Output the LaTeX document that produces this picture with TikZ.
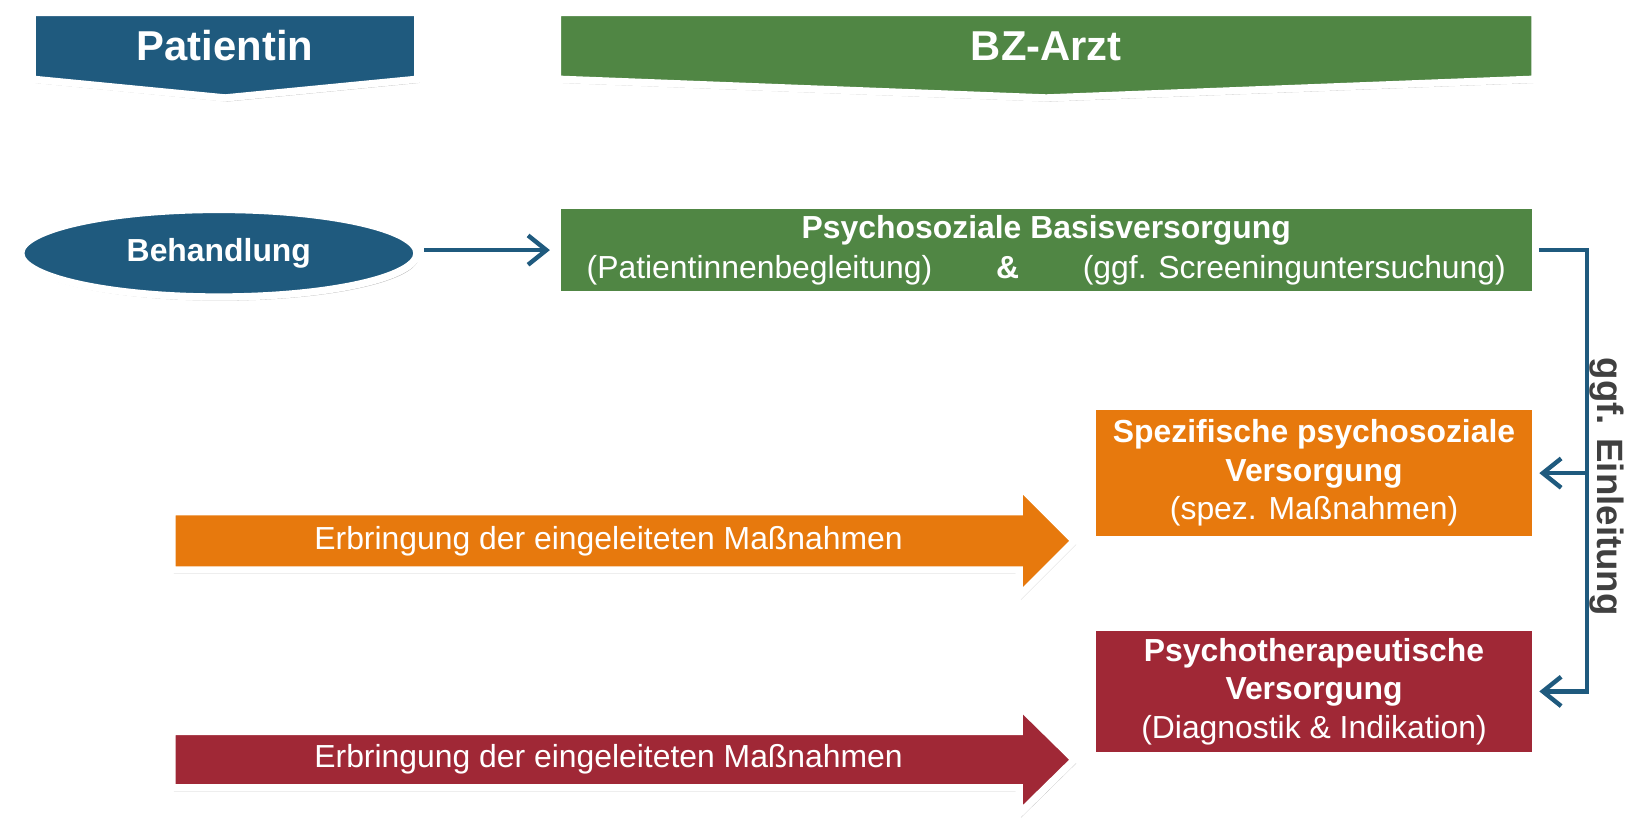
\documentclass[tikz,border=0pt]{standalone}
\usepackage{fontspec}
\setmainfont{Liberation Sans}
\usetikzlibrary{arrows.meta,shadows,shapes.geometric}
\definecolor{cblue}{RGB}{31,90,126}
\definecolor{cgreen}{RGB}{80,134,68}
\definecolor{corange}{RGB}{231,121,13}
\definecolor{cred}{RGB}{160,40,54}
\definecolor{cgray}{RGB}{64,64,64}
\begin{document}
\begin{tikzpicture}[x=0.01cm,y=-0.01cm,
  shd/.style={drop shadow={opacity=0.3,shadow xshift=0.5pt,shadow yshift=-1pt,fill=black}},
  frame/.style={draw=white,line width=2pt,line join=miter,shd},
  bodytext/.style={font=\fontsize{8.7}{10.5}\selectfont,text=white,align=center},
  headtext/.style={font=\bfseries\fontsize{11.4}{13}\selectfont,text=white},
  boxnode/.style={frame,bodytext,rectangle,inner sep=0pt},
  conn/.style={draw=cblue,line width=1.2pt,line join=miter,-{Straight Barb[length=5pt,width=8pt,line width=1.2pt]}},
  ]
\useasboundingbox (0,0) rectangle (1568,800);
% headers
\path[frame,fill=cblue] (31,12) -- (401,12) -- (401,76) -- (216,94) -- (31,76) -- cycle;
\node[headtext] (pat) at (216,44) {Patientin};
\path[frame,fill=cgreen] (535,12) -- (1473,12) -- (1473,76) -- (1004,94) -- (535,76) -- cycle;
\node[headtext] (bz) at (1004,44) {BZ-Arzt};
% ellipse
\node[ellipse,frame,fill=cblue,minimum width=3.8cm,minimum height=0.84cm,
      font=\bfseries\fontsize{8.7}{10.5}\selectfont,text=white] (beh) at (210,243) {Behandlung};
% green box
\node[boxnode,fill=cgreen,minimum width=9.38cm,minimum height=0.86cm] (basis) at (1004,240)
  {\textbf{Psychosoziale Basisversorgung}\\[0.4pt](Patientinnenbegleitung)\hspace{17.4pt}\textbf{\&}\hspace{17.4pt}(ggf. Screeninguntersuchung)};
% orange box
\node[boxnode,fill=corange,minimum width=4.25cm,minimum height=1.28cm] (spez) at (1261,454)
  {\textbf{Spezifische psychosoziale}\\\textbf{Versorgung}\\(spez. Maßnahmen)};
% red box
\node[boxnode,fill=cred,minimum width=4.25cm,minimum height=1.23cm] (psy) at (1261,663.5)
  {\textbf{Psychotherapeutische}\\\textbf{Versorgung}\\(Diagnostik \& Indikation)};
% fat arrows
\path[frame,fill=corange] (165,491) -- (978,491) -- (978,466) -- (1031,519) -- (978,572) -- (978,547) -- (165,547) -- cycle;
\node[bodytext] (erb1) at (584,519) {Erbringung der eingeleiteten Maßnahmen};
\path[frame,fill=cred] (165,702) -- (978,702) -- (978,677) -- (1031,729) -- (978,781) -- (978,756) -- (165,756) -- cycle;
\node[bodytext] (erb2) at (584,729) {Erbringung der eingeleiteten Maßnahmen};
% connectors
\coordinate (b0) at ([xshift=1pt]beh.east |- basis.west);
\draw[conn,shorten >=1pt] (b0) -- (basis.west);
\coordinate (j1) at (1523,240);
\draw[conn] (basis.east) -- (j1) |- (psy.east);
\draw[conn] (j1 |- spez.east) -- (spez.east);
\node[rotate=-90,font=\bfseries\fontsize{10}{12}\selectfont,text=cgray] (ein) at (1542,467) {ggf. Einleitung};
\end{tikzpicture}
\end{document}
